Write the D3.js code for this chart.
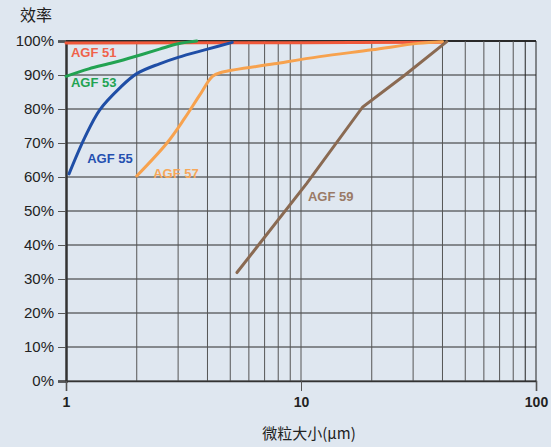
<!DOCTYPE html>
<html>
<head>
<meta charset="utf-8">
<script src="https://cdn.jsdelivr.net/npm/d3@7"></script>
<style>
  html, body { margin: 0; padding: 0; background: #dfe7f0; }
  text { font-family: "Liberation Sans", Arial, sans-serif; }
</style>
</head>
<body>
<div id="chart"></div>
<script>
// tick labels
const xTicks = [1, 10, 100];
const yTicks = [0, 10, 20, 30, 40, 50, 60, 70, 80, 90, 100];
const xGrid = [2, 3, 4, 5, 6, 7, 8, 9, 10, 20, 30, 40, 50, 60, 70, 80, 90, 100];

// series: [particle size µm, efficiency %]
const agf51 = [[1, 99.4], [10, 99.5], [40, 99.6]];
const agf53 = [[1, 89.6], [1.25, 91.8], [1.58, 93.6], [2, 95.6], [2.5, 97.6], [3, 99.2], [3.6, 100]];
const agf55 = [[1.03, 60.9], [1.2, 71.5], [1.39, 79.7], [1.7, 86.3], [2, 90.4], [2.5, 93.3], [3, 95.2], [4, 97.6], [5.1, 99.6]];
const agf57 = [[2, 60.3], [2.69, 70], [3.2, 77.3], [3.7, 84], [4.2, 89.6], [4.6, 90.8], [7.7, 93.3], [12, 95.4], [20, 97.4], [31.5, 99.3], [40, 99.8]];
const agf59 = [[5.34, 31.9], [10.6, 58.2], [18.3, 80.6], [27.7, 90], [41.7, 99.8]];

const seriesNames = ['AGF 51', 'AGF 53', 'AGF 55', 'AGF 57', 'AGF 59'];
const seriesData = [agf51, agf53, agf55, agf57, agf59];
// label anchors in data units
const labelPos = [[1.05, 95.4], [1.05, 86.6], [1.23, 64.2], [2.35, 59.7], [10.7, 52.9]];

const width = 551;
const height = 447;
const margin = {top: 41, right: 15, bottom: 66, left: 66};

const colors = ['#f0583a', '#22a352', '#1f4ea6', '#f7a24e', '#8a6a52'];
const labelColors = ['#f0624a', '#22a352', '#2450b0', '#f7a85a', '#9a7a66'];

const svg = d3.select('#chart').append('svg')
  .attr('width', width)
  .attr('height', height);

const x = d3.scaleLog().domain([1, 100]).range([margin.left, width - margin.right]);
const y = d3.scaleLinear().domain([0, 100]).range([height - margin.bottom, margin.top]);

// grid
const grid = svg.append('g');
grid.selectAll('.hgrid').data(yTicks).join('line')
  .attr('class', 'hgrid')
  .attr('x1', x(1)).attr('x2', x(100))
  .attr('y1', (d) => y(d)).attr('y2', (d) => y(d))
  .style('stroke', '#2a2a2a')
  .style('stroke-width', (d) => d === 100 ? 2 : 1);

grid.selectAll('.vgrid').data(xGrid).join('line')
  .attr('class', 'vgrid')
  .attr('x1', (d) => x(d)).attr('x2', (d) => x(d))
  .attr('y1', y(0)).attr('y2', y(100))
  .style('stroke', (d) => d === 90 || d === 100 ? '#222' : '#555')
  .style('stroke-width', 1);

// y axis
const yAxis = d3.axisLeft(y).tickValues(yTicks).tickFormat((d) => d + '%').tickSize(8).tickPadding(4);
const gy = svg.append('g').attr('transform', `translate(${x(1)},0)`).call(yAxis);
gy.select('.domain').style('stroke', '#333').style('stroke-width', 2.5);
gy.selectAll('.tick line').style('stroke', '#555');
gy.selectAll('text').style('font-size', '15px').style('fill', '#222');

// x axis
const xAxis = d3.axisBottom(x).tickValues(xTicks).tickFormat(d3.format('d')).tickSize(10).tickPadding(6);
const gx = svg.append('g').attr('transform', `translate(0,${y(0)})`).call(xAxis);
gx.select('.domain').style('stroke', '#333').style('stroke-width', 1.5);
gx.selectAll('.tick line').style('stroke', '#555');
gx.selectAll('text').style('font-size', '14px').style('font-weight', 'bold').style('fill', '#222');

// curves
const line = d3.line()
  .x((d) => x(d[0]))
  .y((d) => y(d[1]));

svg.append('g').selectAll('path').data(seriesData).join('path')
  .attr('d', (d, i) => line.curve(i === 4 ? d3.curveLinear : d3.curveCatmullRom.alpha(0.5))(d))
  .style('fill', 'none')
  .style('stroke', (d, i) => colors[i])
  .style('stroke-width', 3)
  .style('stroke-linecap', 'round');

// labels
svg.append('g').selectAll('text').data(seriesNames).join('text')
  .attr('x', (d, i) => x(labelPos[i][0]))
  .attr('y', (d, i) => y(labelPos[i][1]))
  .text((d) => d)
  .style('font-size', '13px')
  .style('font-weight', 'bold')
  .style('fill', (d, i) => labelColors[i]);

// titles
svg.append('text')
  .attr('x', 20).attr('y', 21)
  .text('效率')
  .style('font-family', '"Noto Sans CJK SC", sans-serif')
  .style('font-size', '16px')
  .style('fill', '#222');

svg.append('text')
  .attr('x', x(10) + 8).attr('y', 439)
  .attr('text-anchor', 'middle')
  .text('微粒大小(μm)')
  .style('font-family', '"Noto Sans CJK SC", sans-serif')
  .style('font-size', '15px')
  .style('fill', '#222');
</script>
</body>
</html>
